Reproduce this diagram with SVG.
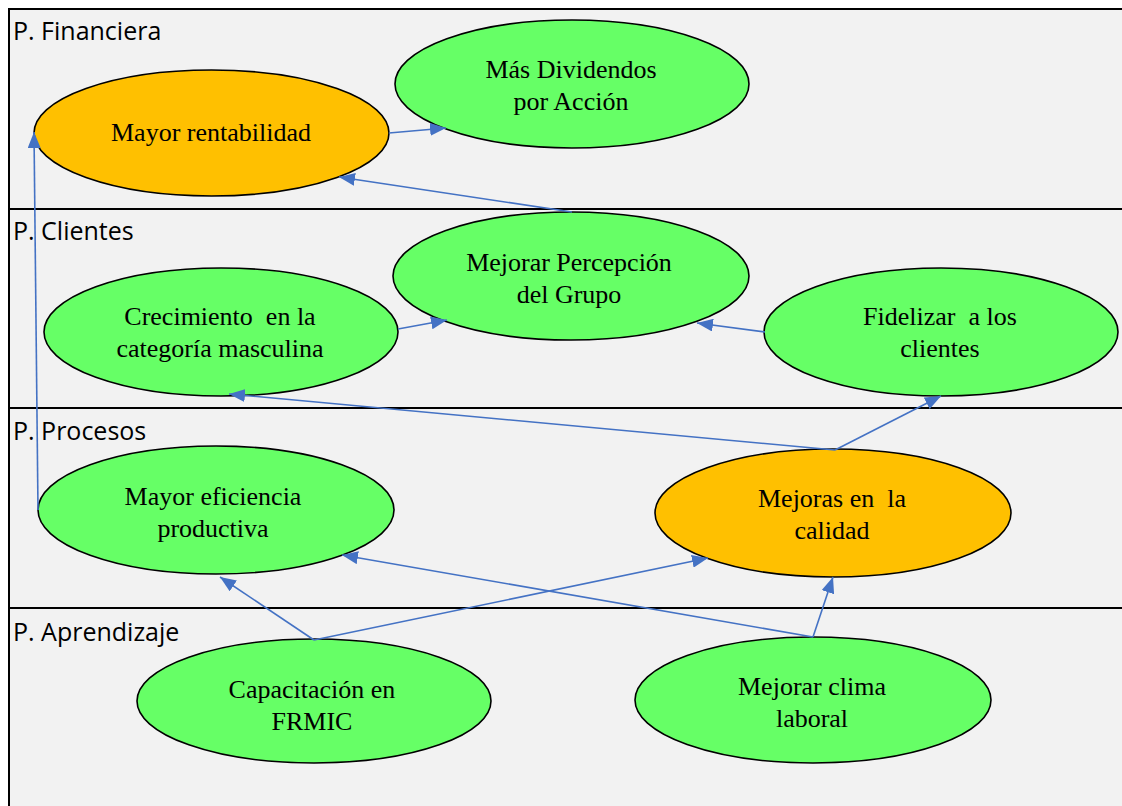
<svg xmlns="http://www.w3.org/2000/svg" width="1122" height="806" viewBox="0 0 1122 806">
<defs>
<style>
.lane{font-family:"Open Sans","Liberation Sans",sans-serif;font-size:25px;fill:#000}
.node ellipse{stroke:#000;stroke-width:1.6}
.g{fill:#66FF66}
.o{fill:#FFC000}
.t{font-family:"Liberation Serif","Times New Roman",serif;font-size:26px;fill:#000;text-anchor:middle;white-space:pre}
.c line{stroke:#4472C4;stroke-width:1.6;marker-end:url(#ah)}
.sep{stroke:#000;stroke-width:2}
</style>
<marker id="ah" markerUnits="userSpaceOnUse" markerWidth="16" markerHeight="13" refX="16" refY="6.5" orient="auto">
<path d="M0,0 L16,6.5 L0,13 z" fill="#4472C4"/>
</marker>
</defs>
<rect x="0" y="0" width="1122" height="806" fill="#fff"/>
<rect x="9" y="9" width="1125" height="810" fill="#f2f2f2" stroke="#000" stroke-width="2"/>
<line class="sep" x1="9" y1="209" x2="1122" y2="209"/>
<line class="sep" x1="9" y1="408" x2="1122" y2="408"/>
<line class="sep" x1="9" y1="608" x2="1122" y2="608"/>
<text class="lane" x="13" y="40">P. Financiera</text>
<text class="lane" x="13" y="240">P. Clientes</text>
<text class="lane" x="13" y="440">P. Procesos</text>
<text class="lane" x="13" y="641">P. Aprendizaje</text>

<g id="n-rentabilidad" class="node"><ellipse class="o" cx="211.5" cy="133" rx="177.5" ry="63"/><text class="t" x="211" y="141">Mayor rentabilidad</text></g>
<g id="n-dividendos" class="node"><ellipse class="g" cx="572" cy="84" rx="177" ry="64"/><text class="t" x="571" y="78">Más Dividendos</text><text class="t" x="571" y="110">por Acción</text></g>
<g id="n-percepcion" class="node"><ellipse class="g" cx="571" cy="276" rx="178" ry="64"/><text class="t" x="569" y="271">Mejorar Percepción</text><text class="t" x="569" y="303">del Grupo</text></g>
<g id="n-crecimiento" class="node"><ellipse class="g" cx="221" cy="332" rx="177" ry="64"/><text class="t" x="220" y="325" xml:space="preserve">Crecimiento  en la</text><text class="t" x="220" y="357">categoría masculina</text></g>
<g id="n-fidelizar" class="node"><ellipse class="g" cx="941" cy="332" rx="177" ry="64"/><text class="t" x="940" y="325" xml:space="preserve">Fidelizar  a los</text><text class="t" x="940" y="357">clientes</text></g>
<g id="n-eficiencia" class="node"><ellipse class="g" cx="216" cy="510" rx="178" ry="64"/><text class="t" x="213" y="505">Mayor eficiencia</text><text class="t" x="213" y="537">productiva</text></g>
<g id="n-calidad" class="node"><ellipse class="o" cx="833" cy="513" rx="178" ry="64"/><text class="t" x="832" y="507" xml:space="preserve">Mejoras en  la</text><text class="t" x="832" y="539">calidad</text></g>
<g id="n-capacitacion" class="node"><ellipse class="g" cx="314" cy="701" rx="177" ry="62"/><text class="t" x="312" y="698">Capacitación en</text><text class="t" x="312" y="730">FRMIC</text></g>
<g id="n-clima" class="node"><ellipse class="g" cx="813" cy="700" rx="178" ry="63"/><text class="t" x="812" y="695">Mejorar clima</text><text class="t" x="812" y="727">laboral</text></g>

<g id="connectors" class="c">
<line x1="389" y1="133" x2="446" y2="128"/>
<line x1="572" y1="212" x2="339" y2="177"/>
<line x1="38" y1="510" x2="34" y2="132"/>
<line x1="398" y1="329" x2="447" y2="320"/>
<line x1="765" y1="332" x2="697" y2="323"/>
<line x1="835" y1="450" x2="229" y2="394"/>
<line x1="835" y1="450" x2="941" y2="396"/>
<line x1="314" y1="640" x2="220" y2="577"/>
<line x1="314" y1="640" x2="708" y2="558"/>
<line x1="813" y1="637" x2="342" y2="555"/>
<line x1="813" y1="637" x2="833" y2="577"/>
</g>
</svg>
